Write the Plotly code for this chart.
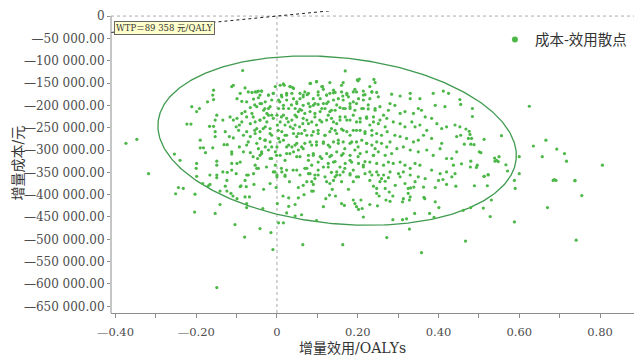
import numpy as np
import plotly.graph_objects as go

# ---- data (incremental effect in QALYs, incremental cost in yuan) ----
samples = [
    # upper-left region
    (-0.085, -122000), (-0.112, -158000), (-0.108, -155000), (-0.157, -166000), (-0.159, -177000),
    (-0.157, -187000), (-0.211, -203000), (-0.192, -207000), (-0.199, -214000), (-0.172, -192000),
    (-0.223, -242000), (-0.213, -242000), (-0.167, -247000), (-0.157, -247000), (-0.149, -222000),
    (-0.153, -233000), (-0.134, -233000), (-0.116, -226000), (-0.108, -233000), (-0.099, -185000),
    (-0.091, -173000), (-0.079, -161000), (-0.071, -170000), (-0.062, -171000), (-0.054, -170000),
    (-0.046, -168000), (-0.038, -168000), (-0.087, -191000), (-0.075, -192000), (-0.058, -186000),
    (-0.046, -183000), (-0.042, -177000), (-0.021, -177000), (-0.009, -173000), (-0.013, -188000),
    (-0.021, -207000), (-0.033, -211000), (-0.050, -203000), (-0.066, -205000), (-0.079, -214000),
    (-0.087, -218000), (-0.099, -229000), (-0.093, -244000), (-0.101, -248000), (-0.095, -256000),
    (-0.087, -237000), (-0.066, -241000), (-0.054, -237000), (-0.042, -233000), (-0.032, -228000),
    (-0.025, -237000), (-0.050, -252000), (-0.054, -263000), (-0.042, -259000), (-0.029, -248000),
    (-0.017, -252000), (-0.153, -259000), (-0.153, -270000), (-0.128, -259000), (-0.118, -270000),
    (-0.108, -273000), (-0.123, -288000), (-0.131, -288000), (-0.190, -278000), (-0.190, -295000),
    (-0.182, -295000), (-0.159, -295000), (-0.177, -306000), (-0.112, -304000), (-0.112, -309000),
    (-0.093, -293000), (-0.075, -289000), (-0.071, -282000), (-0.083, -304000), (-0.066, -306000),
    (-0.046, -297000), (-0.038, -304000), (-0.029, -293000), (-0.021, -300000), (-0.042, -312000),
    (-0.048, -319000), (-0.054, -334000), (-0.050, -341000), (-0.091, -327000), (-0.099, -330000),
    (-0.112, -330000), (-0.149, -325000), (-0.149, -334000), (-0.199, -330000), (-0.200, -341000),
    (-0.254, -309000), (-0.240, -323000), (-0.318, -353000), (-0.166, -356000), (-0.149, -356000),
    (-0.134, -349000), (-0.123, -350000), (-0.112, -345000), (-0.101, -353000), (-0.075, -356000),
    (-0.058, -353000), (-0.013, -319000), (-0.004, -334000), (-0.009, -349000), (0.000, -356000),
    (0.012, -349000), (0.020, -356000), (0.024, -345000), (0.049, -345000),
    (-0.004, -158000), (0.008, -155000), (0.018, -155000), (0.033, -158000), (0.041, -162000),
    (0.037, -173000), (0.024, -177000), (0.012, -181000), (0.004, -188000), (0.024, -188000),
    (0.041, -185000), (0.049, -192000), (0.016, -200000), (0.004, -207000), (0.029, -207000),
    (0.045, -207000), (0.053, -214000), (0.000, -222000), (0.016, -222000), (0.024, -229000),
    (0.037, -233000), (0.049, -226000), (0.008, -237000), (0.001, -244000), (0.020, -244000),
    (0.033, -248000), (0.045, -244000), (0.056, -248000), (0.012, -259000), (0.024, -267000),
    (0.041, -263000), (0.049, -270000), (0.004, -274000), (0.016, -278000), (0.029, -289000),
    (0.037, -293000), (0.045, -289000), (0.000, -293000), (-0.004, -304000), (0.008, -312000),
    (0.024, -308000), (0.041, -304000), (0.053, -300000), (0.049, -315000),
    (-0.075, -226000), (-0.062, -218000), (-0.038, -196000), (-0.029, -192000), (-0.025, -218000),
    (-0.013, -222000), (-0.042, -274000), (-0.066, -270000), (-0.083, -267000), (-0.075, -259000),
    (-0.013, -267000), (-0.017, -282000), (-0.029, -278000), (-0.374, -285000), (-0.347, -276000),
    # upper-middle region
    (0.169, -123000), (0.204, -141000), (0.199, -143000), (0.240, -142000), (0.243, -149000),
    (0.164, -149000), (0.098, -147000), (0.083, -151000), (0.113, -158000), (0.115, -164000),
    (0.069, -170000), (0.075, -176000), (0.065, -181000), (0.057, -185000), (0.090, -185000),
    (0.102, -177000), (0.107, -185000), (0.123, -177000), (0.131, -173000), (0.140, -166000),
    (0.144, -171000), (0.160, -170000), (0.163, -179000), (0.173, -176000), (0.177, -181000),
    (0.193, -164000), (0.197, -170000), (0.214, -168000), (0.218, -176000), (0.235, -170000),
    (0.247, -171000), (0.251, -181000), (0.230, -185000), (0.214, -188000), (0.202, -185000),
    (0.189, -192000), (0.181, -196000), (0.164, -188000), (0.152, -185000), (0.140, -188000),
    (0.127, -192000), (0.115, -196000), (0.102, -198000), (0.090, -200000), (0.078, -196000),
    (0.065, -200000), (0.284, -175000), (0.305, -179000), (0.330, -173000), (0.330, -185000),
    (0.354, -185000), (0.387, -173000), (0.412, -168000), (0.425, -173000), (0.416, -203000),
    (0.392, -200000), (0.280, -196000), (0.292, -200000), (0.276, -211000), (0.255, -203000),
    (0.243, -207000), (0.226, -208000), (0.210, -207000), (0.193, -211000), (0.181, -207000),
    (0.169, -207000), (0.156, -205000), (0.144, -211000), (0.131, -214000), (0.119, -207000),
    (0.107, -214000), (0.094, -218000), (0.082, -214000), (0.069, -218000), (0.061, -211000),
    (0.305, -218000), (0.317, -214000), (0.338, -218000), (0.350, -207000), (0.358, -211000),
    (0.367, -226000), (0.383, -229000), (0.396, -241000), (0.408, -252000), (0.420, -248000),
    (0.441, -244000), (0.445, -270000), (0.453, -248000), (0.264, -222000), (0.272, -229000),
    (0.255, -233000), (0.239, -237000), (0.230, -244000), (0.222, -226000), (0.206, -229000),
    (0.197, -237000), (0.181, -233000), (0.169, -226000), (0.156, -233000), (0.148, -241000),
    (0.135, -229000), (0.123, -233000), (0.111, -237000), (0.098, -244000), (0.086, -237000),
    (0.074, -233000), (0.064, -241000), (0.288, -237000), (0.305, -241000), (0.317, -248000),
    (0.334, -237000), (0.342, -248000), (0.354, -244000), (0.371, -256000), (0.363, -267000),
    (0.268, -248000), (0.273, -259000), (0.259, -267000), (0.247, -263000), (0.235, -267000),
    (0.218, -259000), (0.206, -256000), (0.189, -256000), (0.173, -259000), (0.160, -253000),
    (0.144, -256000), (0.131, -259000), (0.119, -267000), (0.102, -263000), (0.090, -259000),
    (0.074, -267000), (0.061, -263000), (0.292, -267000), (0.305, -270000), (0.321, -274000),
    (0.338, -282000), (0.350, -278000), (0.383, -274000), (0.408, -285000), (0.445, -304000),
    (0.280, -282000), (0.272, -293000), (0.259, -285000), (0.247, -282000), (0.235, -289000),
    (0.222, -285000), (0.210, -278000), (0.197, -282000), (0.181, -285000), (0.164, -282000),
    (0.152, -278000), (0.140, -282000), (0.127, -289000), (0.115, -285000), (0.098, -282000),
    (0.086, -289000), (0.069, -285000), (0.061, -293000), (0.297, -297000), (0.313, -293000),
    (0.330, -300000), (0.350, -304000), (0.371, -300000), (0.387, -312000), (0.404, -297000),
    (0.420, -319000), (0.433, -319000), (0.437, -334000), (0.441, -353000), (0.284, -308000),
    (0.268, -312000), (0.251, -304000), (0.239, -312000), (0.222, -304000), (0.206, -308000),
    (0.193, -300000), (0.181, -312000), (0.164, -308000), (0.148, -304000), (0.135, -312000),
    (0.123, -308000), (0.107, -315000), (0.090, -308000), (0.078, -312000), (0.305, -327000),
    (0.317, -334000), (0.330, -341000), (0.342, -330000), (0.354, -334000), (0.383, -345000),
    (0.404, -353000), (0.420, -349000), (0.288, -330000), (0.276, -327000), (0.264, -334000),
    (0.247, -330000), (0.230, -327000), (0.214, -334000), (0.202, -330000), (0.185, -327000),
    (0.169, -330000), (0.156, -338000), (0.140, -327000), (0.127, -330000), (0.115, -338000),
    (0.102, -327000), (0.086, -334000), (0.074, -341000), (0.301, -353000), (0.313, -349000),
    (0.330, -356000), (0.280, -349000), (0.264, -356000), (0.247, -349000), (0.235, -356000),
    (0.218, -353000), (0.202, -360000), (0.181, -353000), (0.164, -349000), (0.148, -356000),
    (0.135, -350000), (0.119, -360000), (0.094, -356000), (0.078, -353000),
    # dense core
    (0.016, -152000), (0.032, -158000), (0.039, -160000), (0.082, -151000), (0.098, -147000),
    (0.111, -158000), (0.131, -149000), (0.160, -155000), (0.201, -145000), (0.230, -158000),
    (-0.050, -170000), (-0.038, -168000), (-0.021, -177000), (-0.009, -173000), (0.011, -177000),
    (0.024, -173000), (0.057, -173000), (0.065, -177000), (0.078, -173000), (0.102, -170000),
    (0.123, -177000), (0.140, -172000), (0.173, -173000), (0.189, -170000), (0.214, -177000),
    (0.235, -170000), (-0.055, -199000), (-0.042, -196000), (-0.030, -207000), (-0.017, -203000),
    (0.007, -192000), (0.016, -207000), (0.036, -199000), (0.049, -196000), (0.057, -209000),
    (0.082, -203000), (0.094, -196000), (0.111, -207000), (0.123, -196000), (0.135, -211000),
    (0.148, -199000), (0.164, -207000), (0.181, -203000), (0.197, -196000), (0.214, -207000),
    (0.226, -199000), (0.243, -211000), (-0.059, -226000), (-0.042, -233000), (-0.021, -222000),
    (-0.009, -229000), (0.011, -226000), (0.028, -237000), (0.045, -222000), (0.065, -229000),
    (0.078, -241000), (0.094, -226000), (0.106, -233000), (0.127, -222000), (0.140, -237000),
    (0.156, -226000), (0.173, -233000), (0.189, -222000), (0.206, -237000), (0.222, -229000),
    (0.239, -226000), (0.251, -241000), (-0.055, -256000), (-0.034, -252000), (-0.017, -263000),
    (0.003, -256000), (0.020, -267000), (0.040, -252000), (0.053, -263000), (0.069, -256000),
    (0.086, -267000), (0.102, -256000), (0.119, -267000), (0.135, -252000), (0.148, -263000),
    (0.164, -256000), (0.181, -267000), (0.197, -256000), (0.218, -263000), (0.235, -256000),
    (-0.050, -285000), (-0.030, -278000), (-0.013, -293000), (0.007, -282000), (0.024, -293000),
    (0.049, -285000), (0.065, -297000), (0.082, -282000), (0.098, -289000), (0.115, -282000),
    (0.131, -293000), (0.152, -285000), (0.168, -297000), (0.185, -282000), (0.201, -293000),
    (0.222, -285000), (0.243, -297000), (-0.059, -315000), (-0.038, -308000), (-0.017, -319000),
    (-0.001, -312000), (0.020, -323000), (0.032, -308000), (0.057, -315000), (0.078, -323000),
    (0.090, -312000), (0.111, -319000), (0.131, -315000), (0.144, -326000), (0.160, -312000),
    (0.181, -323000), (0.201, -315000), (0.218, -326000), (0.239, -312000), (-0.046, -341000),
    (-0.026, -338000), (-0.005, -349000), (0.011, -341000), (0.040, -345000), (0.069, -341000),
    (0.082, -353000), (0.102, -345000), (0.127, -338000), (0.148, -349000), (0.168, -341000),
    (0.189, -345000), (0.214, -338000), (0.230, -349000), (0.251, -356000),
    # upper-right region
    (0.453, -187000), (0.455, -198000), (0.484, -207000), (0.484, -225000), (0.625, -202000),
    (0.468, -253000), (0.476, -258000), (0.478, -265000), (0.455, -267000), (0.474, -274000),
    (0.482, -274000), (0.464, -287000), (0.480, -287000), (0.488, -288000), (0.513, -276000),
    (0.556, -268000), (0.501, -304000), (0.505, -306000), (0.539, -318000), (0.544, -323000),
    (0.550, -315000), (0.548, -326000), (0.540, -325000), (0.600, -315000), (0.567, -333000),
    (0.480, -325000), (0.457, -331000), (0.496, -334000), (0.494, -339000), (0.479, -338000),
    (0.571, -347000), (0.600, -353000), (0.523, -355000), (0.513, -359000), (0.635, -291000),
    (0.666, -278000), (0.657, -315000), (0.693, -298000), (0.712, -308000), (0.717, -325000),
    (0.806, -334000), (0.687, -366000), (0.738, -368000),
    # lower-left region
    (-0.199, -359000), (-0.149, -362000), (-0.124, -368000), (-0.184, -375000), (-0.170, -380000),
    (-0.166, -377000), (-0.244, -384000), (-0.232, -386000), (-0.251, -398000), (-0.203, -399000),
    (-0.141, -392000), (-0.128, -381000), (-0.124, -392000), (-0.114, -397000), (-0.109, -403000),
    (-0.099, -409000), (-0.091, -382000), (-0.089, -380000), (-0.079, -368000), (-0.076, -382000),
    (-0.071, -356000), (-0.057, -377000), (-0.033, -388000), (-0.017, -375000), (0.000, -360000),
    (-0.002, -384000), (0.020, -359000), (0.031, -371000), (0.053, -384000), (0.015, -403000),
    (0.029, -407000), (0.053, -407000), (-0.079, -405000), (-0.068, -405000), (-0.141, -422000),
    (-0.075, -420000), (-0.075, -429000), (0.001, -420000), (0.029, -426000), (0.045, -422000),
    (-0.035, -431000), (0.024, -441000), (0.045, -448000), (-0.204, -439000), (-0.153, -442000),
    (-0.104, -467000), (0.004, -463000), (0.016, -463000), (-0.042, -476000), (-0.015, -485000),
    (-0.080, -495000), (-0.010, -523000), (-0.149, -608000),
    # lower-middle region
    (0.057, -356000), (0.065, -379000), (0.074, -371000), (0.086, -371000), (0.090, -377000),
    (0.094, -364000), (0.102, -356000), (0.123, -371000), (0.131, -375000), (0.140, -368000),
    (0.144, -360000), (0.156, -356000), (0.181, -356000), (0.197, -360000), (0.189, -371000),
    (0.177, -388000), (0.160, -371000), (0.121, -409000), (0.130, -401000), (0.137, -388000),
    (0.145, -403000), (0.115, -427000), (0.067, -400000), (0.086, -392000), (0.090, -392000),
    (0.160, -420000), (0.167, -424000), (0.189, -412000), (0.193, -420000), (0.208, -412000),
    (0.197, -427000), (0.202, -433000), (0.211, -431000), (0.214, -450000), (0.230, -422000),
    (0.249, -425000), (0.230, -368000), (0.239, -381000), (0.247, -386000), (0.255, -371000),
    (0.259, -364000), (0.268, -370000), (0.276, -362000), (0.247, -397000), (0.253, -403000),
    (0.268, -386000), (0.278, -394000), (0.287, -403000), (0.280, -415000), (0.270, -412000),
    (0.293, -379000), (0.305, -360000), (0.317, -375000), (0.325, -386000), (0.331, -385000),
    (0.339, -383000), (0.342, -371000), (0.350, -360000), (0.363, -383000), (0.367, -364000),
    (0.392, -384000), (0.400, -368000), (0.411, -366000), (0.420, -377000), (0.433, -360000),
    (0.443, -381000), (0.325, -397000), (0.330, -405000), (0.313, -409000), (0.311, -416000),
    (0.328, -412000), (0.364, -406000), (0.366, -409000), (0.392, -416000), (0.401, -429000),
    (0.378, -442000), (0.389, -451000), (0.341, -442000), (0.321, -454000), (0.311, -456000),
    (0.287, -456000), (0.098, -458000), (0.061, -445000), (0.328, -477000), (0.272, -496000),
    (0.064, -512000), (0.163, -512000), (0.358, -530000),
    # lower-right region
    (0.513, -359000), (0.523, -356000), (0.489, -380000), (0.521, -380000), (0.588, -368000),
    (0.590, -386000), (0.531, -412000), (0.480, -429000), (0.461, -435000), (0.511, -430000),
    (0.528, -449000), (0.588, -461000), (0.467, -504000), (0.684, -368000), (0.691, -368000),
    (0.738, -369000), (0.755, -402000), (0.670, -429000), (0.741, -502000),
]
incremental_effect = [s[0] for s in samples]
incremental_cost = [s[1] for s in samples]

wtp = 89358
x_tick_vals = [-0.4, -0.2, 0, 0.2, 0.4, 0.6, 0.8]
x_tick_text = ["—0.40", "—0.20", "0", "0.20", "0.40", "0.60", "0.80"]
y_tick_vals = [0, -50000, -100000, -150000, -200000, -250000, -300000, -350000,
               -400000, -450000, -500000, -550000, -600000, -650000]
y_tick_text = ["0", "—50 000.00", "—100 000.00", "—150 000.00", "—200 000.00", "—250 000.00",
               "—300 000.00", "—350 000.00", "—400 000.00", "—450 000.00", "—500 000.00",
               "—550 000.00", "—600 000.00", "—650 000.00"]

X_RANGE = [-0.411, 0.904]
Y_RANGE = [-665000, 11300]

TICK_FONT = "DejaVu Serif, Noto Sans CJK SC, serif"
TEXT_FONT = "DejaVu Serif, Noto Sans CJK SC, serif"
GREEN = "#4cb848"
ELLIPSE_GREEN = "#3f9a4f"
AXIS_GREY = "#8c8c8c"

# page body adds an 8px margin, so the figure is 8px smaller than the window
FIG_W, FIG_H = 634, 348
M_L, M_R, M_T, M_B = 103, 0, 3, 43
PLOT_W = FIG_W - M_L - M_R
PLOT_H = FIG_H - M_T - M_B

fig = go.Figure()

# confidence ellipse (defined in screen-proportional units, then mapped to data)
px_per_x = PLOT_W / (X_RANGE[1] - X_RANGE[0])
px_per_y = PLOT_H / (Y_RANGE[1] - Y_RANGE[0])
ell_cx, ell_cy = 0.149, -279000
ell_a, ell_b, ell_tilt = 180, 83, np.deg2rad(6)
t = np.linspace(0, 2 * np.pi, 361)
dxp = ell_a * np.cos(t) * np.cos(ell_tilt) - ell_b * np.sin(t) * np.sin(ell_tilt)
dyp = ell_a * np.cos(t) * np.sin(ell_tilt) + ell_b * np.sin(t) * np.cos(ell_tilt)
fig.add_trace(go.Scatter(x=ell_cx + dxp / px_per_x, y=ell_cy - dyp / px_per_y,
                         mode="lines", line=dict(color=ELLIPSE_GREEN, width=1.3),
                         showlegend=False, hoverinfo="skip"))

# WTP threshold line
wtp_x = [X_RANGE[0], 0.2]
fig.add_trace(go.Scatter(x=wtp_x, y=[wtp * v for v in wtp_x], mode="lines",
                         line=dict(color="#222222", width=1, dash="dot"),
                         showlegend=False, hoverinfo="skip"))

fig.add_trace(go.Scatter(x=incremental_effect, y=incremental_cost, mode="markers",
                         marker=dict(color=GREEN, size=3.2),
                         name="成本-效用散点", showlegend=False))
# legend entry
fig.add_trace(go.Scatter(x=[None], y=[None], mode="markers",
                         marker=dict(color=GREEN, size=6), name="成本-效用散点"))

# reference lines at zero
fig.add_shape(type="line", xref="x", yref="y", x0=0, x1=0, y0=Y_RANGE[0], y1=0,
              line=dict(color="#aaaaaa", width=1, dash="dot"), layer="below")
fig.add_shape(type="line", xref="paper", yref="y", x0=0, x1=1, y0=0, y1=0,
              line=dict(color="#aaaaaa", width=1, dash="dot"), layer="below")
# y axis line (from 0 downward)
fig.add_shape(type="line", xref="paper", yref="y", x0=0, x1=0, y0=Y_RANGE[0], y1=0,
              line=dict(color=AXIS_GREY, width=1))

fig.add_annotation(x=-0.404, y=-25800, xref="x", yref="y", xanchor="left", yanchor="middle",
                   text="WTP＝89 358 元/QALY", showarrow=False,
                   font=dict(family=TEXT_FONT, size=8.5, color="#333333"),
                   bgcolor="#ffffcc", bordercolor="#666666", borderwidth=1, borderpad=1)

fig.add_annotation(x=0.454, y=-0.1175, xref="paper", yref="paper", xanchor="center", yanchor="middle",
                   text="增量效用/OALYs", showarrow=False,
                   font=dict(family=TEXT_FONT, size=14, color="#333333"))
fig.add_annotation(x=-0.176, y=0.497, xref="paper", yref="paper", xanchor="center", yanchor="middle",
                   text="增量成本/元", textangle=-90, showarrow=False,
                   font=dict(family=TEXT_FONT, size=14, color="#333333"))

fig.update_xaxes(range=X_RANGE, tickvals=x_tick_vals, ticktext=x_tick_text,
                 showgrid=False, zeroline=False, showline=True, linecolor=AXIS_GREY, linewidth=1,
                 ticks="outside", ticklen=4, tickcolor=AXIS_GREY, ticklabelstandoff=4,
                 minor=dict(dtick=0.1, tick0=0, ticks="outside", ticklen=4, tickcolor=AXIS_GREY),
                 tickfont=dict(family=TICK_FONT, size=11.5, color="#4d4d4d"))
fig.update_yaxes(range=Y_RANGE, tickvals=y_tick_vals, ticktext=y_tick_text,
                 showgrid=False, zeroline=False, showline=False,
                 ticks="outside", ticklen=3, tickcolor=AXIS_GREY,
                 tickfont=dict(family=TICK_FONT, size=12, color="#4d4d4d"))

fig.update_layout(width=FIG_W, height=FIG_H, margin=dict(l=M_L, r=M_R, t=M_T, b=M_B),
                  plot_bgcolor="white", paper_bgcolor="white",
                  showlegend=True,
                  legend=dict(x=0.723, y=0.905, xanchor="left", yanchor="middle",
                              bgcolor="rgba(0,0,0,0)",
                              font=dict(family=TEXT_FONT, size=14.5, color="#333333")))

fig.write_html("out.html")
